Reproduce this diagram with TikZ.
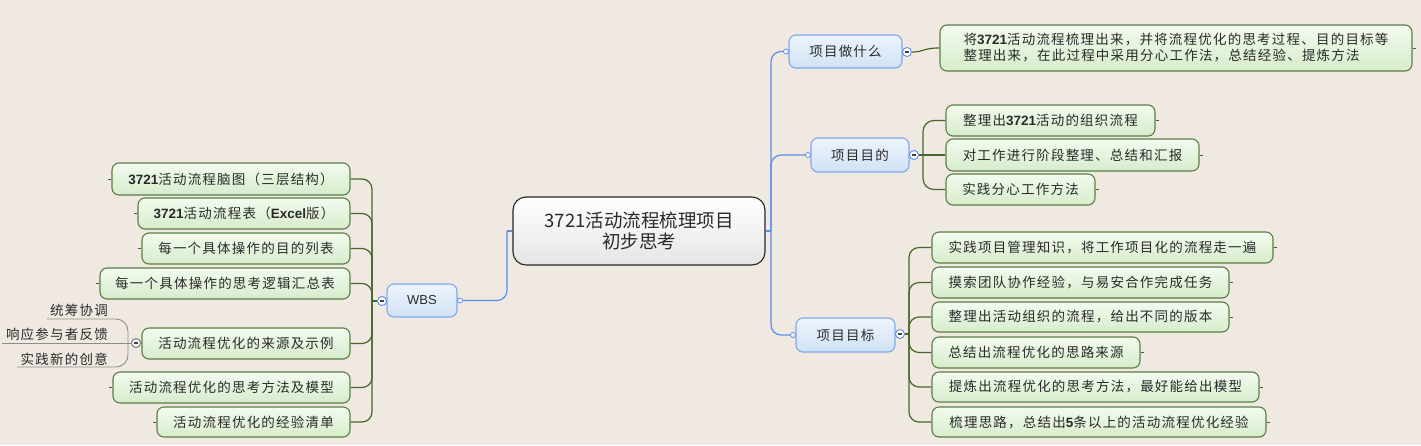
\documentclass[tikz,border=0pt]{standalone}
\usepackage{fontspec}
\setmainfont{Noto Sans CJK SC}[LetterSpace=9]
\newfontfamily\titlefont{Noto Sans CJK SC}
\newfontfamily\latf{Liberation Sans}
\newcommand\dg[1]{{\latf\bfseries #1}}
\definecolor{bgc}{HTML}{EFE9E1}
\definecolor{gborder}{HTML}{5A7E44}
\definecolor{gline}{HTML}{45682A}
\definecolor{gtop}{HTML}{F3FBEF}
\definecolor{gbot}{HTML}{D6ECCB}
\definecolor{bborder}{HTML}{7FA7EE}
\definecolor{bline}{HTML}{5B8DEE}
\definecolor{btop}{HTML}{EDF4FC}
\definecolor{bbot}{HTML}{D0E2F5}
\definecolor{txt}{HTML}{2A2A2A}
\pgfdeclarelayer{bglayer}
\pgfdeclarelayer{lines}
\pgfsetlayers{bglayer,lines,main}
\tikzset{
  txtfont/.style={font=\fontsize{13.5}{16}\selectfont},
  gbox/.style={draw=gborder, line width=1.1pt, rounded corners=7pt, top color=gtop, bottom color=gbot, inner sep=0pt, text=txt, txtfont},
  bbox/.style={draw=bborder, line width=1.1pt, rounded corners=7pt, top color=btop, bottom color=bbot, inner sep=0pt, text=txt, txtfont},
  cbox/.style={draw=black!85, line width=1.1pt, rounded corners=13pt, top color=white, bottom color=black!10, inner sep=0pt, text=txt, align=center, font=\titlefont\fontsize{18.5}{21}\selectfont},
  gconn/.style={draw=gline, line width=1.2pt},
  stub/.style={draw=gline, line width=0.8pt},
  bconn/.style={draw=bline, line width=1.2pt},
  grayline/.style={draw=black!45, line width=0.9pt},
  mk/.style={circle, draw=bline, fill=white, line width=0.9pt, minimum size=9pt, inner sep=0pt,
    path picture={\draw[line width=1.3pt, black!75] ([xshift=-2.2pt]path picture bounding box.center) -- ([xshift=2.2pt]path picture bounding box.center);}},
  mkgray/.style={mk, draw=black!55},
  bdot/.style={circle, draw=bline, fill=white, line width=0.8pt, minimum size=5pt, inner sep=0pt},
  leaf/.style={inner sep=0pt, text=txt, txtfont}
}
\begin{document}
\begin{tikzpicture}[x=1pt,y=-1pt]
\useasboundingbox (0,0) rectangle (1421,445);
\begin{pgfonlayer}{bglayer}
\fill[bgc] (0,0) rectangle (1421,445);
\end{pgfonlayer}

% central node
\node[cbox, minimum width=252pt, minimum height=68pt] (c) at (639,231) {3721活动流程梳理项目\\初步思考};

% blue nodes
\node[bbox, minimum width=113pt, minimum height=33pt] (b1) at (845.5,51.5) {项目做什么};
\node[bbox, minimum width=98pt, minimum height=34pt] (b2) at (860,155) {项目目的};
\node[bbox, minimum width=99pt, minimum height=34pt] (b3) at (845.5,335) {项目目标};
\node[bbox, minimum width=70pt, minimum height=33pt, font=\latf\fontsize{13}{16}\selectfont] (wbs) at (422,300.5) {WBS};

% attach dots
\node[bdot] (d1) at ([xshift=-2.5pt]b1.west) {};
\node[bdot] (d2) at ([xshift=-2.5pt]b2.west) {};
\node[bdot] (d3) at ([xshift=-2.5pt]b3.west) {};
\node[bdot] (dw) at ([xshift=2.5pt]wbs.east) {};

% collapse markers
\node[mk] (m1) at (907,52) {};
\node[mk] (m2) at (914,155) {};
\node[mk] (m3) at (900,334) {};
\node[mk] (mw) at (382,301) {};

% 项目做什么 child
\node[gbox, minimum width=472pt, minimum height=46pt, align=left] (w1) at (1176,48) {将\dg{3721}活动流程梳理出来，并将流程优化的思考过程、目的目标等\\整理出来，在此过程中采用分心工作法，总结经验、提炼方法};

% 项目目的 children
\node[gbox, minimum width=209pt, minimum height=31pt] (c1) at (1050.5,120.5) {整理出\dg{3721}活动的组织流程};
\node[gbox, minimum width=253pt, minimum height=32pt] (c2) at (1072.5,155) {对工作进行阶段整理、总结和汇报};
\node[gbox, minimum width=149pt, minimum height=31pt] (c3) at (1020.5,189.5) {实践分心工作方法};

% 项目目标 children
\node[gbox, minimum width=341pt, minimum height=31pt] (g1) at (1102.5,247.5) {实践项目管理知识，将工作项目化的流程走一遍};
\node[gbox, minimum width=297pt, minimum height=31pt] (g2) at (1080.5,282.5) {摸索团队协作经验，与易安合作完成任务};
\node[gbox, minimum width=297pt, minimum height=30pt] (g3) at (1080.5,317) {整理出活动组织的流程，给出不同的版本};
\node[gbox, minimum width=208pt, minimum height=31pt] (g4) at (1036,352.5) {总结出流程优化的思路来源};
\node[gbox, minimum width=327pt, minimum height=30pt] (g5) at (1095.5,387) {提炼出流程优化的思考方法，最好能给出模型};
\node[gbox, minimum width=334pt, minimum height=30pt] (g6) at (1099,422) {梳理思路，总结出\dg{5}条以上的活动流程优化经验};

% WBS children
\node[gbox, minimum width=238pt, minimum height=32pt] (n1) at (231,179) {\dg{3721}活动流程脑图（三层结构）};
\node[gbox, minimum width=212pt, minimum height=31pt] (n2) at (244,213.5) {\dg{3721}活动流程表（\dg{Excel}版）};
\node[gbox, minimum width=208pt, minimum height=31pt] (n3) at (246,248.5) {每一个具体操作的目的列表};
\node[gbox, minimum width=250pt, minimum height=31pt] (n4) at (225,283.5) {每一个具体操作的思考逻辑汇总表};
\node[gbox, minimum width=208pt, minimum height=31pt] (n5) at (246,343.5) {活动流程优化的来源及示例};
\node[gbox, minimum width=237pt, minimum height=31pt] (n6) at (231.5,387.5) {活动流程优化的思考方法及模型};
\node[gbox, minimum width=193pt, minimum height=30pt] (n7) at (253.5,422) {活动流程优化的经验清单};

% sub leaves of n5
\node[mkgray] (mk5) at (136,343) {};
\node[leaf, anchor=base east] (s1) at (108,315) {统筹协调};
\node[leaf, anchor=base east] (s2) at (108,339) {响应参与者反馈};
\node[leaf, anchor=base east] (s3) at (108,364) {实践新的创意};

\coordinate (jl) at (507,231);
\coordinate (jr) at (771,231);
\coordinate (j1) at (923,155);
\coordinate (j2) at (909,334);
\coordinate (jw) at (372,301);
\coordinate (jj) at (128,343);
\coordinate (u1) at (47,319);
\coordinate (u2) at (2,343);
\coordinate (u3) at (17,367);

\begin{pgfonlayer}{lines}
% blue connectors
\draw[bconn] (c.west) -- (jl);
\draw[bconn, rounded corners=10pt] (jl) |- (dw);
\draw[bconn] (c.east) -- (jr);
\draw[bconn, rounded corners=10pt] (jr) |- (d1);
\draw[bconn, rounded corners=10pt] (jr) |- (d2);
\draw[bconn, rounded corners=10pt] (jr) |- (d3);

% green connectors right
\draw[gconn] (m1.east) .. controls (925,52) and (922,48) .. (w1.west);
\draw[gconn] (m2.east) -- (j1);
\draw[gconn, rounded corners=11pt] (j1) |- (c1.west);
\draw[gconn] (j1) -- (c2.west);
\draw[gconn, rounded corners=11pt] (j1) |- (c3.west);
\draw[gconn] (m3.east) -- (j2);
\foreach \g in {g1,g2,g3,g4,g5,g6}{
  \draw[gconn, rounded corners=10pt] (j2) |- (\g.west);
}
% green connectors left
\draw[gconn] (mw.west) -- (jw);
\foreach \n in {n1,n2,n3,n4,n5,n6,n7}{
  \draw[gconn, rounded corners=10pt] (jw) |- (\n.east);
}
% stubs
\foreach \g in {w1,c1,c2,c3,g1,g2,g3,g4,g5,g6}{
  \draw[stub] (\g.east) -- ++(3,0);
}
\foreach \n in {n1,n2,n3,n4,n6,n7}{
  \draw[stub] (\n.west) -- ++(-3,0);
}
\draw[stub] (n5.west) -- (mk5.east);
% sub-leaf lines
\draw[grayline] (mk5.west) -- (u2);
\draw[grayline, rounded corners=12pt] (jj) |- (u1);
\draw[grayline, rounded corners=12pt] (jj) |- (u3);
\end{pgfonlayer}
\end{tikzpicture}
\end{document}
